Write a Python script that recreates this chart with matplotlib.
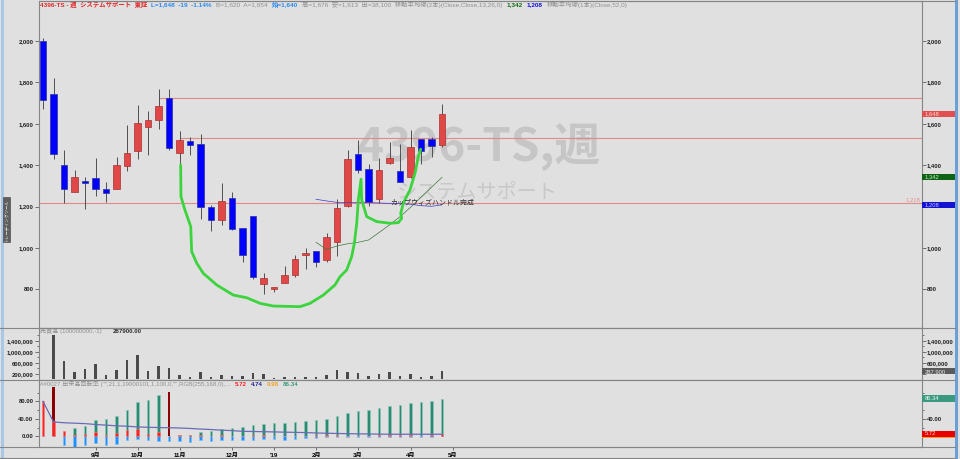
import numpy as np
import matplotlib.pyplot as plt
import matplotlib.transforms as mtransforms
from matplotlib.patches import Rectangle
from matplotlib.lines import Line2D
from matplotlib.ticker import FuncFormatter

plt.rcParams['font.family'] = ['Liberation Sans', 'Noto Sans CJK JP', 'DejaVu Sans']

# weekly candles 4396-TS (Aug 2018 - Apr 2019)
opens = [2000, 1744, 1399, 1270, 1325, 1338, 1287, 1283, 1396, 1467, 1583, 1618, 1723,
         1460, 1517, 1501, 1200, 1135, 1240, 1098, 1156, 826, 800, 829, 868, 964,
         984, 942, 1027, 1204, 1454, 1380, 1235, 1409, 1373, 1341, 1526, 1525, 1497]
highs = [2013, 1820, 1473, 1375, 1345, 1435, 1320, 1441, 1593, 1692, 1660, 1770, 1767,
         1565, 1535, 1549, 1206, 1314, 1269, 1098, 1156, 877, 813, 913, 968, 998,
         984, 1070, 1235, 1473, 1522, 1406, 1433, 1510, 1502, 1570, 1526, 1538, 1696]
lows = [1673, 1431, 1215, 1268, 1187, 1253, 1224, 1283, 1370, 1428, 1451, 1576, 1473,
        1364, 1449, 1138, 1080, 1111, 1088, 930, 848, 778, 789, 829, 861, 897,
        909, 934, 963, 1199, 1361, 1203, 1219, 1406, 1320, 1336, 1406, 1441, 1486]
closes = [1716, 1454, 1283, 1341, 1312, 1287, 1264, 1399, 1460, 1602, 1618, 1688, 1485,
          1522, 1496, 1200, 1135, 1225, 1090, 966, 861, 856, 813, 868, 945, 974,
          934, 1054, 1191, 1428, 1377, 1224, 1377, 1433, 1320, 1486, 1470, 1494, 1648]

# moving averages (drawn from week 26 on)
ma_start = 26
ma13 = [1027, 993, 1009, 1020, 1027, 1038, 1074, 1111, 1151, 1196, 1245, 1293, 1341]
ma26 = [1235, 1227, 1220, 1219, 1219, 1219, 1217, 1215, 1215, 1211, 1204, 1201, 1208]

# horizontal lines: level, start week
hline_levels = [1723, 1530, 1216]
hline_starts = [11, 13, None]

# hand drawn cup & handle (week, price)
cup_x = [13.11, 13.14, 13.52, 14.07, 14.16, 14.64, 15.27, 16.54, 18.12, 19.4, 20.67, 21.93,
         24.48, 25.43, 26.7, 27.81, 28.29, 28.92, 29.4, 29.65, 29.88, 30.03, 30.29, 30.35,
         30.83, 31.78, 33.05, 33.84, 34.16, 34.07, 34.31, 34.95, 35.43, 35.74, 35.97]
cup_y = [1401, 1248, 1183, 1103, 982, 926, 877, 821, 772, 759, 732, 719,
         716, 732, 772, 821, 861, 893, 958, 1022, 1119, 1232, 1332, 1232,
         1151, 1127, 1119, 1122, 1143, 1167, 1216, 1280, 1361, 1441, 1477]

# volume (売買高)
volume = [np.nan, 1620000, 654000, 254000, 364000, 545000, 170000, 339000, 691000, 873000,
          303000, 497000, 400000, 170000, 85000, 254000, 85000, 170000, 109000, 109000,
          230000, 182000, 36000, 85000, 97000, 97000, 73000, 158000, 339000, 267000,
          230000, 133000, 206000, 254000, 121000, 182000, 97000, 121000, 287900]

# 出来高回転率 indicator
ind_teal = [0, 0, 0, 19, 24.4, 36.6, 39.6, 46.5, 60, 77.7, 83, 93.7, 0, 2, 4, 10, 13, 16, 19,
            21, 26, 29, 30.5, 31, 33.5, 35.8, 36.6, 40.4, 46.5, 53.3, 57, 60, 64, 69.3, 72.4,
            76.2, 78.5, 80.8, 86.34]
ind_dark = [0, 112, 0, 0, 0, 0, 0, 0, 0, 0, 0, 0, 101, 0, 0, 0, 0, 0, 0,
            0, 0, 0, 0, 0, 0, 0, 0, 0, 0, 0, 0, 0, 0, 0, 0, 0, 0, 0, 0]
ind_red = [80, 35, 13, 4, 5, 10, 4, 7.6, 13.7, 17.5, 6, 10, 0, 2.3, 3, 2, 1, 2, 1,
           1, 2, 2, 1, 1, 1, 1, 4, 3, 2, 1, 1, 1, 2, 2, 2, 2, 1, 2, 5.72]
ind_blue = [0, 0, -19, -24, -20.6, -15, -20.6, -17.5, -8.4, -5.3, -9.1, -10, -10, -11.4,
            -13.7, -9.1, -10, -9.1, -9.1, -9, -9, -6, -6, -7.6, -6, -4.6, -4.6, -1.5, -0.8,
            -1.5, -2.3, -2.3, -1, -1.5, -2.3, -1, -2.3, -2.3, 0]
ind_line = [80, 32.8, 31, 30, 29, 27, 25.5, 24, 23, 21.5, 20.6, 20, 19.5, 19, 18, 16.5, 15.5,
            14, 13, 11.4, 11, 10.5, 10, 9.5, 9, 8.5, 7.6, 7, 6.5, 6, 5.6, 5.3, 5, 4.7, 4.7,
            4.7, 4.7, 4.7, 4.74]

month_pos = [5, 9, 13, 18, 22, 26, 30, 35, 39]
month_labels = ['9月', '10月', '11月', '12月', "'19", '2月', '3月', '4月', '5月']

###############################################################################
W, H = 960, 459
BG = '#e0e0e0'
AX_COL = '#858585'
FS = 4.2
fig = plt.figure(figsize=(W / 100, H / 100), dpi=100, facecolor=BG)


def add_panel(top, bottom, ylim):
    a = fig.add_axes([39 / W, 1 - bottom / H, (921.5 - 39) / W, (bottom - top) / H])
    a.set_facecolor(BG)
    a.set_xlim(-4 / 10.5, 878.5 / 10.5)
    a.set_ylim(*ylim)
    for s in a.spines.values():
        s.set_color(AX_COL)
        s.set_linewidth(0.8)
    a.tick_params(axis='y', which='both', left=True, right=True, labelleft=True,
                  labelright=True, direction='out', color='#404040', width=0.5,
                  labelsize=FS, labelcolor='#202020', pad=1)
    a.tick_params(axis='y', which='major', length=3)
    a.tick_params(axis='y', which='minor', length=1.5)
    a.tick_params(axis='x', which='both', bottom=False, labelbottom=False)
    return a


ax = add_panel(1, 328, (612.8, 2193.3))
axv = add_panel(328, 380, (-29091, 1861818))
axi = add_panel(380, 447, (-24.46, 128.7))

idx = np.arange(len(closes))
o, h, l, c = map(np.array, (opens, highs, lows, closes))
up = c >= o

# main price panel
ax.vlines(idx, l, h, color='#505050', lw=0.7, zorder=2)
ax.bar(idx[up], (c - o)[up], bottom=o[up], width=0.58, color='#e04848',
       edgecolor='#a83030', lw=0.5, zorder=3)
ax.bar(idx[~up], (o - c)[~up], bottom=c[~up], width=0.58, color='#0000ff',
       edgecolor='#3030a0', lw=0.5, zorder=3)

for lev, st in zip(hline_levels, hline_starts):
    x0 = ax.get_xlim()[0] if st is None else st
    ax.hlines(lev, x0, ax.get_xlim()[1], color='#e08a8a', lw=0.8, zorder=1)

ma_x = np.arange(ma_start, ma_start + len(ma13))
ax.plot(ma_x, ma13, color='#3c7a3c', lw=0.5, zorder=4)
ax.plot(ma_x, ma26, color='#3a3ad0', lw=0.5, zorder=4)
ax.plot(cup_x, cup_y, color='#3cd43c', lw=2.0, solid_capstyle='round',
        solid_joinstyle='round', zorder=5)

ax.text(0.4986, 0.552, '4396-TS,週', transform=ax.transAxes, ha='center', va='center',
        fontsize=33, fontweight='bold', color='#c6c6c6', zorder=0,
        family=['Noto Sans CJK JP', 'DejaVu Sans'])
ax.text(0.497, 0.415, 'システムサポート', transform=ax.transAxes, ha='center', va='center',
        fontsize=14.5, color='#c8c8c8', zorder=0, family=['Noto Sans CJK JP'])
ax.text(33.1, 1218, 'カップウィズハンドル完成', fontsize=5, color='#303030', va='center',
        zorder=6, family=['Noto Sans CJK JP'])

ax.set_yticks([800, 1000, 1200, 1400, 1600, 1800, 2000])
ax.yaxis.set_major_formatter(FuncFormatter(lambda v, p: f'{v:,.0f}'))

# volume panel
axv.bar(idx, volume, width=0.2, color='#4a4a4a', zorder=3)
axv.set_yticks([200000, 600000, 1000000, 1400000])
axv.set_yticks([400000, 800000, 1200000, 1600000], minor=True)
axv.yaxis.set_major_formatter(FuncFormatter(lambda v, p: f'{v:,.0f}'))

# indicator panel
axi.bar(idx, ind_teal, width=0.2, color='#2a8a72', edgecolor='#8cc8b8', lw=0.5, zorder=3)
axi.bar(idx, ind_dark, width=0.2, color='#8b0000', zorder=3)
axi.bar(idx, ind_red, width=0.2, color='#ff2020', edgecolor='#f08080', lw=0.4, zorder=4)
axi.bar(idx, ind_blue, width=0.28, color='#1e8fff', edgecolor='#80bff5', lw=0.5, zorder=3)
axi.plot(idx, ind_line, color='#6a6ab8', lw=0.9, zorder=5)
axi.set_yticks([0, 40, 80])
axi.set_yticks([20, 60, 100], minor=True)
axi.yaxis.set_major_formatter(FuncFormatter(lambda v, p: f'{v:.2f}'))
axi.set_xticks(month_pos)
axi.set_xticklabels(month_labels)
axi.tick_params(axis='x', which='major', bottom=True, labelbottom=True, direction='out',
                length=2.5, width=0.5, color='#404040', labelsize=4.4, pad=1.5)

fig.canvas.draw()
# right-scale labels hidden under the value boxes
hidden_right = {ax: [1200], axv: [200000], axi: [0, 80]}
for a in (ax, axv, axi):
    for t in a.yaxis.get_major_ticks():
        t.label1.set_fontweight('bold')
        t.label2.set_fontweight('bold')
        if any(abs(t.get_loc() - v) < 1e-6 for v in hidden_right[a]):
            t.label2.set_visible(False)
    for lbl in a.get_xticklabels():
        lbl.set_fontweight('bold')


# value boxes on the right scale
def value_box(a, val, text, face, tcol, hpx=6.4):
    tr = mtransforms.blended_transform_factory(a.transAxes, a.transData)
    y0, y1 = a.get_ylim()
    ppx = (y1 - y0) / (a.get_position().height * H)
    a.add_patch(Rectangle((1.0, val - hpx / 2 * ppx), 33 / 882.5, hpx * ppx, transform=tr,
                          facecolor=face, edgecolor='none', clip_on=False, zorder=10))
    a.text(1.004, val, text, transform=tr, ha='left', va='center', fontsize=FS,
           color=tcol, clip_on=False, zorder=11)


value_box(ax, 1648, '1,648', '#e05050', '#ffd8d8')
value_box(ax, 1342, '1,342', '#0e6414', '#c8e8c8')
value_box(ax, 1208, '1,208', '#1414d0', '#c8c8ff')
value_box(axv, 287900, '287,900', '#5a5a5a', '#e8e8e8')
tr = mtransforms.blended_transform_factory(axi.transAxes, axi.transData)
axi.add_patch(Rectangle((1.0, -3.5), 33 / 882.5, 2.0, transform=tr, facecolor='#f0a020',
                        edgecolor='none', clip_on=False, zorder=9))
value_box(axi, 86.34, '86.34', '#3a9a80', '#e8f8f0', hpx=6.6)
value_box(axi, 5.72, '5.72', '#e80000', '#ffe0e0', hpx=6.4)

tr = mtransforms.blended_transform_factory(ax.transAxes, ax.transData)
ax.text(0.9985, 1222, '1,218', transform=tr, ha='right', va='bottom', fontsize=FS,
        color='#e89090')


# header & panel titles: pieces laid out one after another
def text_row(a, x, y, pieces, gap=3.0, fs=4.4):
    prev = None
    for s, color, bold in pieces:
        kw = dict(fontsize=fs, color=color, va='center', ha='left', zorder=12,
                  fontweight='bold' if bold else 'normal', annotation_clip=False)
        if prev is None:
            prev = a.annotate(s, xy=(x, H - y), xycoords='figure pixels', **kw)
        else:
            prev = a.annotate(s, xy=(1, 0.5), xycoords=prev, xytext=(gap, 0),
                              textcoords='offset points', **kw)


text_row(ax, 39.5, 5, [('4396-TS - 週  システムサポート  東証', '#e02828', True),
                       ('L=1,648  -19  -1.14%', '#2a8af0', True),
                       ('B=1,620  A=1,654', '#909090', False),
                       ('始=1,640', '#2a8af0', True),
                       ('高=1,676  安=1,613  出=38,100  移動平均線(2本)(Close,Close,13,26,0)',
                        '#909090', False),
                       ('1,342', '#107010', True),
                       ('1,208', '#1010e0', True),
                       ('移動平均線(1本)(Close,52,0)', '#909090', False)], fs=4.55)
text_row(axv, 40, 331.5, [('売買高 (100000000,-1)', '#909090', False),
                          ('287900.00', '#303030', True)], gap=8)
text_row(axi, 40, 384, [('##0027 出来高回転率 ("",21,1,19000101,1,100,0,"",RGB(255,168,0),...',
                         '#909090', False),
                        ('5.72', '#ff2020', True), ('4.74', '#202090', True),
                        ('0.98', '#f0a020', True), ('86.34', '#3a9a80', True)])

# frame lines and side strips
for yy, x0 in ((1, 39), (328, 0), (380, 0), (447, 0), (458, 0)):
    fig.add_artist(Line2D([x0 / W, 955 / W], [1 - yy / H, 1 - yy / H], color=AX_COL, lw=0.8))
fig.add_artist(Rectangle((1 / W, 0), 3 / W, 1, transform=fig.transFigure,
                         facecolor='#a8c8e8', edgecolor='none'))
fig.add_artist(Rectangle((955 / W, 0), 2.5 / W, 1, transform=fig.transFigure,
                         facecolor='#6aa0d8', edgecolor='none'))
fig.add_artist(Rectangle((3 / W, 1 - 242 / H), 7 / W, 45 / H, transform=fig.transFigure,
                         facecolor='#5e5e5e', edgecolor='#404040', lw=0.4))
fig.text(6.5 / W, 1 - 219.5 / H, 'トレーディングツール', rotation=90, fontsize=3.1,
         color='#e8e8e8', ha='center', va='center')

plt.savefig('out.png', dpi=100, facecolor=BG)
